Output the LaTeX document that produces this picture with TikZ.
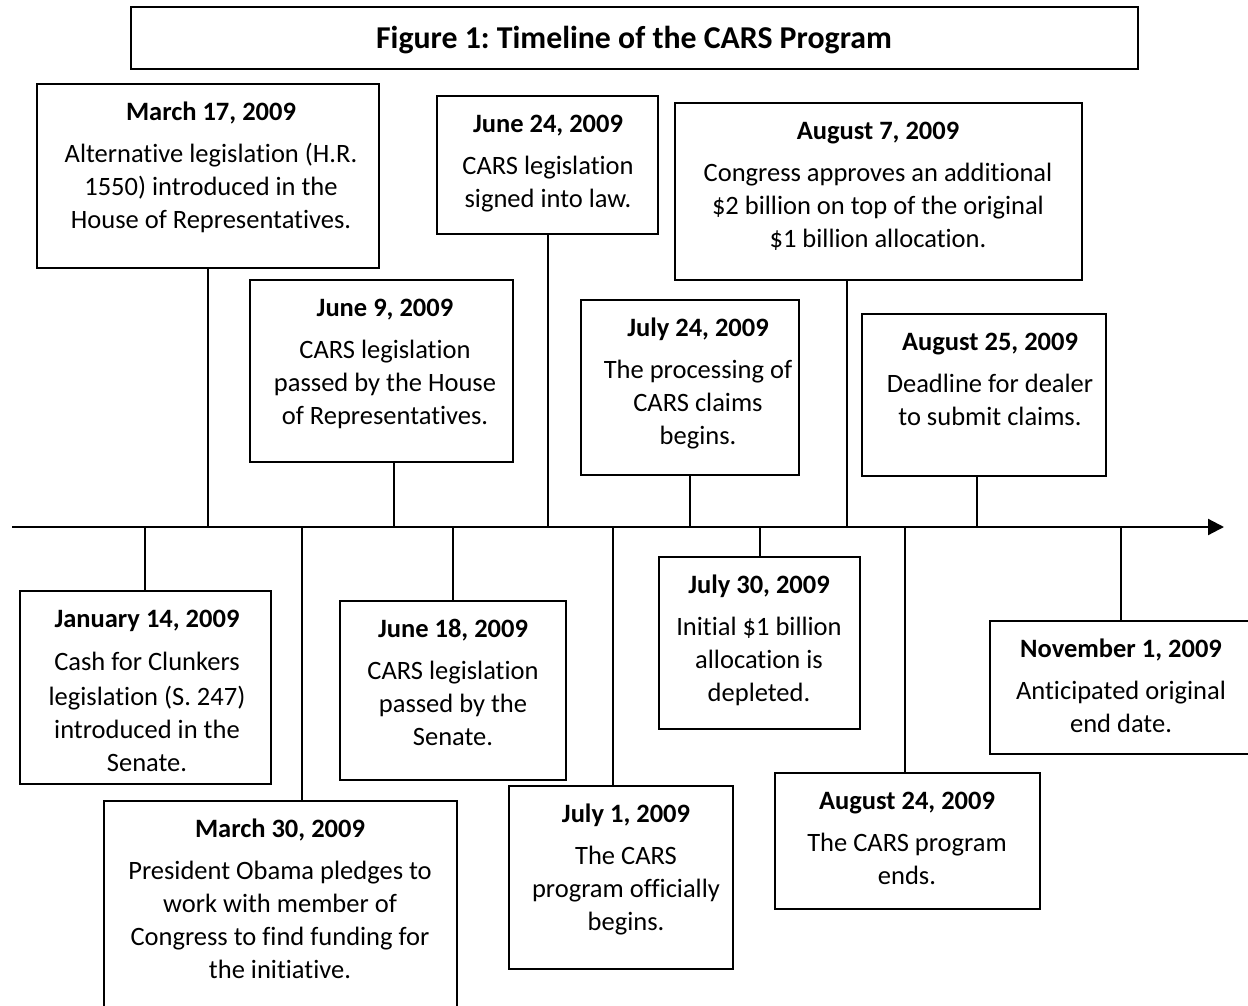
\documentclass[tikz,border=0pt]{standalone}
\usepackage{fontspec}
\setmainfont{Carlito}[Ligatures={NoCommon}]
\usetikzlibrary{arrows.meta,fit}
\frenchspacing
\begin{document}
\begin{tikzpicture}[x=1pt,y=-1pt,
  evbox/.style={draw=black, line width=1.5pt, inner sep=0pt, rectangle},
  evtxt/.style={anchor=north, inner sep=0pt, align=center, font=\fontsize{26.5pt}{33pt}\selectfont},
  stemline/.style={draw=black, line width=1.5pt},
  axisline/.style={draw=black, line width=2.2pt, -{Triangle[length=16pt,width=16pt]}}]
\useasboundingbox (0,0) rectangle (1248,1006);
% title
\node[evbox, fit={(131,7) (1138,69)}] (title) {};
\node[anchor=base, inner sep=0pt, font=\fontsize{31.8pt}{38pt}\selectfont\bfseries] (titletxt) at (634,49) {Figure 1: Timeline of the CARS Program};
% axis
\coordinate (a0) at (12,527);
\coordinate (a1) at (1224,527);
\draw[axisline] (a0) -- (a1);
% ---- upper boxes
\node[evbox, fit={(37,84) (379,268)}] (m17) {};
\node[evtxt] (m17t) at (211,94) {\rule{0pt}{26pt}\textbf{March 17, 2009}\\[9pt]Alternative legislation (H.R.\\1550) introduced in the\\House of Representatives.};
\node[evbox, fit={(250,280) (513,462)}] (j9) {};
\node[evtxt] (j9t) at (385,290) {\rule{0pt}{26pt}\textbf{June 9, 2009}\\[9pt]CARS legislation\\passed by the House\\of Representatives.};
\node[evbox, fit={(437,96) (658,234)}] (j24) {};
\node[evtxt] (j24t) at (548,106) {\rule{0pt}{26pt}\textbf{June 24, 2009}\\[9pt]CARS legislation\\signed into law.};
\node[evbox, fit={(581,300) (799,475)}] (jl24) {};
\node[evtxt] (jl24t) at (698,310) {\rule{0pt}{26pt}\textbf{July 24, 2009}\\[9pt]The processing of\\CARS claims\\begins.};
\node[evbox, fit={(675,103) (1082,280)}] (au7) {};
\node[evtxt] (au7t) at (878,113) {\rule{0pt}{26pt}\textbf{August 7, 2009}\\[9pt]Congress approves an additional\\\$2 billion on top of the original\\\$1 billion allocation.};
\node[evbox, fit={(862,314) (1106,476)}] (au25) {};
\node[evtxt] (au25t) at (990,324) {\rule{0pt}{26pt}\textbf{August 25, 2009}\\[9pt]Deadline for dealer\\to submit claims.};
% ---- lower boxes
\node[evbox, fit={(20,591) (271,784)}] (ja14) {};
\node[evtxt] (ja14t) at (147,601) {\rule{0pt}{26pt}\textbf{January 14, 2009}\\[10pt]Cash for Clunkers\\[2pt]legislation (S. 247)\\introduced in the\\Senate.};
\node[evbox, fit={(104,801) (457,1030)}] (m30) {};
\node[evtxt] (m30t) at (280,811) {\rule{0pt}{26pt}\textbf{March 30, 2009}\\[9pt]President Obama pledges to\\work with member of\\Congress to find funding for\\the initiative.};
\node[evbox, fit={(340,601) (566,780)}] (j18) {};
\node[evtxt] (j18t) at (453,611) {\rule{0pt}{26pt}\textbf{June 18, 2009}\\[9pt]CARS legislation\\passed by the\\Senate.};
\node[evbox, fit={(509,786) (733,969)}] (jl1) {};
\node[evtxt] (jl1t) at (626,796) {\rule{0pt}{26pt}\textbf{July 1, 2009}\\[9pt]The CARS\\program officially\\begins.};
\node[evbox, fit={(659,557) (860,729)}] (jl30) {};
\node[evtxt] (jl30t) at (759,567) {\rule{0pt}{26pt}\textbf{July 30, 2009}\\[9pt]Initial \$1 billion\\allocation is\\depleted.};
\node[evbox, fit={(775,773) (1040,909)}] (au24) {};
\node[evtxt] (au24t) at (907,783) {\rule{0pt}{26pt}\textbf{August 24, 2009}\\[9pt]The CARS program\\ends.};
\node[evbox, fit={(990,621) (1260,754)}] (n1) {};
\node[evtxt] (n1t) at (1121,631) {\rule{0pt}{26pt}\textbf{November 1, 2009}\\[9pt]Anticipated original\\end date.};
% ---- stems
\coordinate (s1) at (208,527);
\coordinate (s2) at (394,527);
\coordinate (s3) at (548,527);
\coordinate (s4) at (690,527);
\coordinate (s5) at (847,527);
\coordinate (s6) at (977,527);
\coordinate (s7) at (145,527);
\coordinate (s8) at (302,527);
\coordinate (s9) at (453,527);
\coordinate (s10) at (613,527);
\coordinate (s11) at (760,527);
\coordinate (s12) at (905,527);
\coordinate (s13) at (1121,527);
\draw[stemline] (s1) -- (s1 |- m17.south);
\draw[stemline] (s2) -- (s2 |- j9.south);
\draw[stemline] (s3) -- (s3 |- j24.south);
\draw[stemline] (s4) -- (s4 |- jl24.south);
\draw[stemline] (s5) -- (s5 |- au7.south);
\draw[stemline] (s6) -- (s6 |- au25.south);
\draw[stemline] (s7) -- (s7 |- ja14.north);
\draw[stemline] (s8) -- (s8 |- m30.north);
\draw[stemline] (s9) -- (s9 |- j18.north);
\draw[stemline] (s10) -- (s10 |- jl1.north);
\draw[stemline] (s11) -- (s11 |- jl30.north);
\draw[stemline] (s12) -- (s12 |- au24.north);
\draw[stemline] (s13) -- (s13 |- n1.north);
\end{tikzpicture}
\end{document}
